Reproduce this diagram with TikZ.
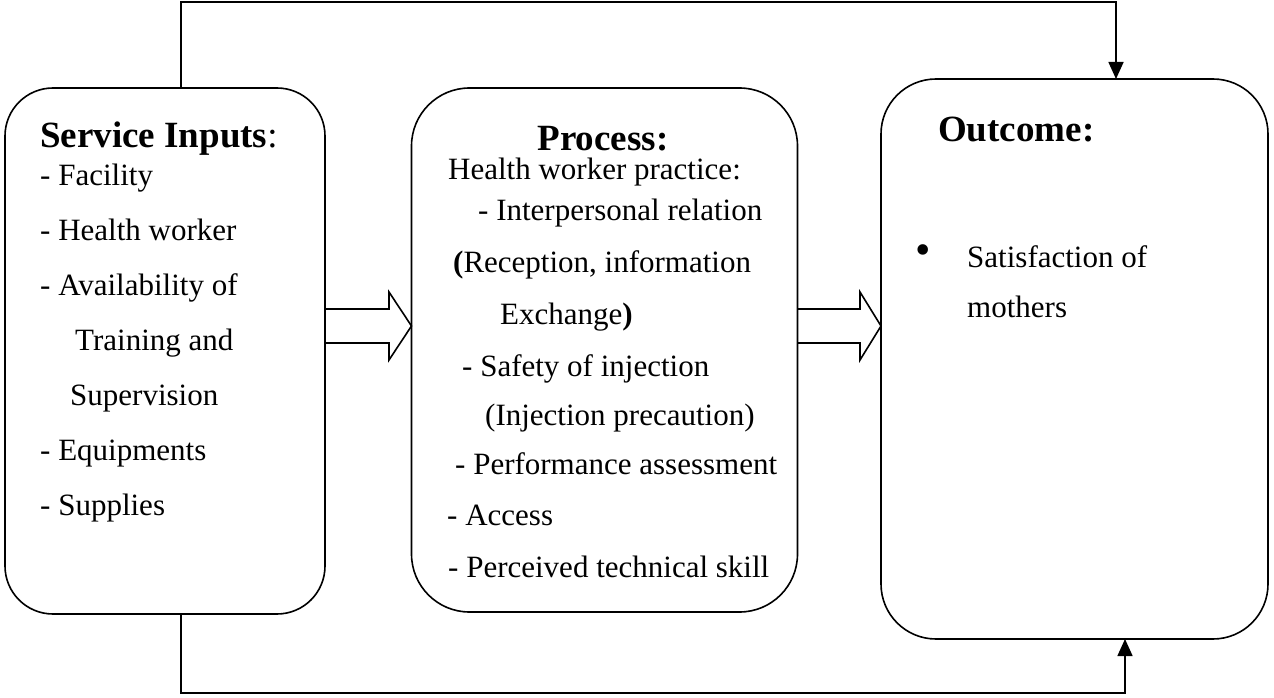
\documentclass[tikz,border=0pt]{standalone}
\usepackage{fontspec}
\setmainfont{Liberation Serif}
\usetikzlibrary{arrows.meta}
\begin{document}
\begin{tikzpicture}[x=1pt,y=-1pt,
  box/.style={draw, line width=1.6pt, outer sep=0pt, inner sep=0pt},
  conn/.style={line width=1.6pt},
  blk/.style={line width=1.6pt, line join=miter},
  tip/.style={-{Triangle[length=17pt,width=15pt]}},
  txt/.style={anchor=base west, inner sep=0pt, font=\fontsize{31}{37}\selectfont},
  bul/.style={anchor=base, inner sep=0pt, font=\fontsize{44}{50}\selectfont},
  hd/.style={anchor=base west, inner sep=0pt, font=\fontsize{37}{44}\selectfont\bfseries},
  chd/.style={anchor=base, inner sep=0pt, font=\fontsize{37}{44}\selectfont\bfseries}]
\useasboundingbox (0,0) rectangle (1274,698);

% boxes
\node[box, rounded corners=48pt, minimum width=320pt, minimum height=526pt] (inp) at (165,351) {};
\node[box, rounded corners=58pt, minimum width=386pt, minimum height=524pt] (proc) at (604.5,350) {};
\node[box, rounded corners=55pt, minimum width=387pt, minimum height=560pt] (out) at (1074.5,359) {};

% box 1 text
\node[hd] (h1) at (40,147) {Service Inputs\mdseries:};
\node[txt] (a1) at (40,185) {- Facility};
\node[txt] (a2) at (40,240) {- Health worker};
\node[txt] (a3) at (40,295) {- Availability of};
\node[txt] (a4) at (75,350) {Training and};
\node[txt] (a5) at (70,405) {Supervision};
\node[txt] (a6) at (40,460) {- Equipments};
\node[txt] (a7) at (40,515) {- Supplies};

% box 2 text
\node[chd] (h2) at (603,150) {Process:};
\node[txt] (b1) at (448,179) {Health worker practice:};
\node[txt] (b2) at (478,220) {- Interpersonal relation};
\node[txt] (b3) at (453,272) {\textbf{(}Reception, information};
\node[txt] (b4) at (500,324) {Exchange\textbf{)}};
\node[txt] (b5) at (462,376) {- Safety of injection};
\node[txt] (b6) at (485,425) {(Injection precaution)};
\node[txt] (b7) at (455,474) {- Performance assessment};
\node[txt] (b8) at (447,525) {- Access};
\node[txt] (b9) at (448,577) {- Perceived technical skill};

% box 3 text
\node[hd] (h3) at (938,142) {Outcome:};
\node[bul] (dot) at (923,264) {•};
\node[txt] (c1) at (967,267) {Satisfaction of};
\node[txt] (c2) at (967,317) {mothers};

% block arrows
\draw[blk] (inp.east |- 0,309) -- (389,309) -- (389,292) -- (proc.west |- 0,326) -- (389,360) -- (389,343) -- (inp.east |- 0,343);
\draw[blk] (proc.east |- 0,309) -- (860,309) -- (860,292) -- (out.west |- 0,326) -- (860,360) -- (860,343) -- (proc.east |- 0,343);

% feedback connectors
\coordinate (t1) at (181,2);
\coordinate (t2) at (1116,2);
\coordinate (u1) at (181,693);
\coordinate (u2) at (1125,693);
\draw[conn, tip] (inp.north -| t1) -- (t1) -- (t2) -- (out.north -| t2);
\draw[conn, tip] (inp.south -| u1) -- (u1) -- (u2) -- (out.south -| u2);
\end{tikzpicture}
\end{document}
